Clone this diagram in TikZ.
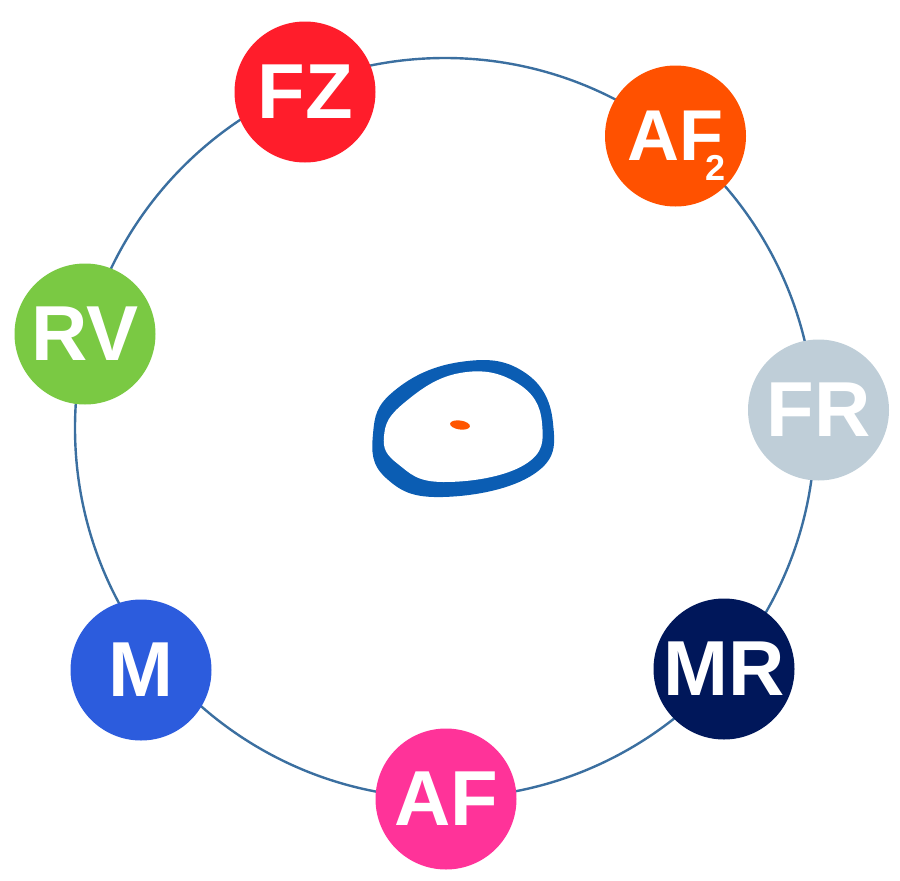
\documentclass[tikz,border=0pt]{standalone}
\usepackage{fontspec}
\setmainfont{Liberation Sans}
\definecolor{ringblue}{HTML}{3B6FA0}
\definecolor{blobblue}{HTML}{0B5DB3}
\definecolor{dotorange}{HTML}{FF5500}
\definecolor{fzred}{HTML}{FF1D2B}
\definecolor{aforange}{HTML}{FF5100}
\definecolor{frgray}{HTML}{BFCED8}
\definecolor{mrnavy}{HTML}{00175A}
\definecolor{afpink}{HTML}{FF3399}
\definecolor{mblue}{HTML}{2C5CDD}
\definecolor{rvgreen}{HTML}{7AC943}
\tikzset{
  ball/.style={circle, minimum size=141pt, inner sep=0pt, text=white,
    font=\bfseries\fontsize{78}{78}\selectfont},
  ring/.style={draw=ringblue, line width=2.4pt},
}
\begin{document}
\begin{tikzpicture}[x=1pt, y=-1pt]
\useasboundingbox (0,0) rectangle (900,881);
% ring
\draw[ring] (445,428) circle[radius=370];
% central blob (outer fill, inner cut-out)
\fill[blobblue] plot[smooth cycle, tension=0.75] coordinates
  {(373,434) (394,391) (460,362) (524,372) (553,423) (534,474) (443,497) (386,478)};
\fill[white] plot[smooth cycle, tension=0.75] coordinates
  {(384,436) (404,403) (460,373) (517,383) (542,423) (524,465) (443,482) (398,464)};
\fill[dotorange, rotate around={-8:(460,425)}] (460,425) ellipse[x radius=10, y radius=4.5];
% nodes
\node[ball, fill=fzred] (fz) at (305,92) {FZ};
\node[ball, fill=aforange, font=\bfseries\fontsize{72}{72}\selectfont] (aftwo) at (675.5,136)
  {AF\makebox[0pt][l]{\kern-18pt\raisebox{-20pt}[0pt][0pt]{\fontsize{36}{36}\selectfont 2}}};
\node[ball, fill=frgray] (fr) at (818.5,410) {FR};
\node[ball, fill=mrnavy] (mr) at (724,669) {MR};
\node[ball, fill=afpink] (af) at (446,799) {AF};
\node[ball, fill=mblue] (m) at (141,670) {M};
\node[ball, fill=rvgreen] (rv) at (85,334) {RV};
\end{tikzpicture}
\end{document}
